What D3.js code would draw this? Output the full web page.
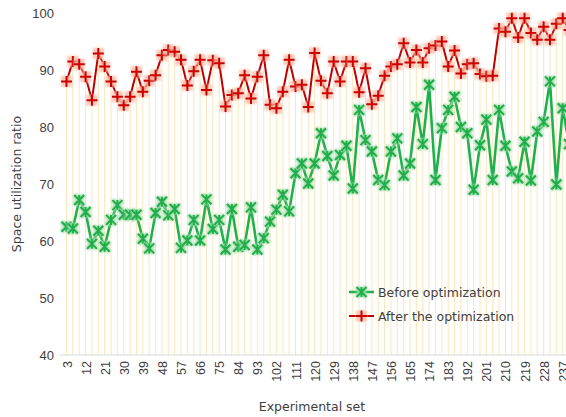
<!DOCTYPE html>
<html>
<head>
<meta charset="utf-8">
<script src="https://cdn.jsdelivr.net/npm/d3@7"></script>
<style>
  body { margin: 0; background: #fff; }
  svg { display: block; font-family: "DejaVu Sans", Verdana, sans-serif; }
</style>
</head>
<body>
<div id="chart"></div>
<script>
// Experimental sets 3, 6, 9 ... 240
const sets = d3.range(3, 241, 3);

const before = [
  62.5, 62.2, 67.2, 65.1, 59.5, 61.8, 59.0, 63.7, 66.3, 64.6,
  64.6, 64.6, 60.4, 58.7, 64.9, 66.9, 64.5, 65.6, 58.8, 60.1,
  63.7, 60.1, 67.3, 62.1, 63.7, 58.5, 65.6, 59.0, 59.3, 65.9,
  58.5, 60.5, 63.4, 65.5, 68.1, 65.2, 71.9, 73.6, 70.1, 73.6,
  78.9, 74.9, 71.5, 75.1, 76.7, 69.2, 83.0, 77.7, 75.7, 70.7,
  69.8, 75.7, 78.0, 71.5, 73.6, 83.5, 77.0, 87.4, 70.7, 79.8,
  83.0, 85.3, 80.0, 78.9, 69.0, 76.8, 81.3, 70.7, 83.0, 76.7,
  72.2, 71.0, 77.4, 70.6, 79.2, 80.9, 88.0, 69.9, 83.3, 77.0
];

const after = [
  88.0, 91.5, 91.0, 88.8, 84.7, 92.9, 90.6, 88.0, 85.3, 83.8,
  85.3, 89.7, 86.2, 88.1, 89.1, 92.6, 93.5, 93.2, 91.8, 87.3,
  89.8, 91.8, 86.5, 91.7, 91.2, 83.6, 85.6, 85.9, 89.1, 85.0,
  88.8, 92.6, 83.9, 83.3, 86.2, 91.8, 87.1, 87.4, 83.5, 93.0,
  88.1, 85.9, 91.5, 88.0, 91.5, 91.5, 86.1, 90.3, 84.0, 85.5,
  89.0, 90.6, 91.0, 94.7, 91.3, 93.5, 91.3, 93.8, 94.3, 95.0,
  90.6, 93.4, 89.4, 91.0, 91.2, 89.3, 88.9, 89.0, 97.3, 96.7,
  99.1, 95.7, 99.1, 96.5, 95.3, 97.6, 95.3, 98.1, 99.1, 97.0
];

const xTicks = d3.range(3, 238, 9);
const yTicks = [40, 50, 60, 70, 80, 90, 100];

const seriesNames = ["Before optimization", "After the optimization"];

const width = 566, height = 417;
const svg = d3.select("#chart").append("svg")
  .attr("width", width)
  .attr("height", height);

const x = d3.scaleLinear().domain([3, 237]).range([66.5, 562.7]);
const y = d3.scaleLinear().domain([40, 100]).range([355, 13]);

// Glow filter for markers
const defs = svg.append("defs");
const glow = defs.append("filter").attr("id", "soft")
  .attr("x", "-50%").attr("y", "-50%").attr("width", "200%").attr("height", "200%");
glow.append("feGaussianBlur").attr("stdDeviation", 1.1);

const rows = sets.map((s, i) => ({ set: s, before: before[i], after: after[i] }));

// Drop lines from the highest point down to the category axis
svg.append("g")
  .selectAll("line")
  .data(rows)
  .join("line")
  .attr("x1", d => x(d.set))
  .attr("x2", d => x(d.set))
  .attr("y1", d => y(Math.max(d.before, d.after)))
  .attr("y2", y(40))
  .attr("stroke", "#f6d88e")
  .attr("stroke-opacity", 0.6)
  .attr("stroke-width", 1);

// Category axis line
svg.append("line")
  .attr("x1", 60).attr("x2", width)
  .attr("y1", y(40)).attr("y2", y(40))
  .attr("stroke", "#d9d9d9");

// Axes
const xAxis = svg.append("g")
  .attr("transform", `translate(0,${y(40)})`)
  .call(d3.axisBottom(x).tickValues(xTicks).tickSize(0).tickFormat(d3.format("d")));
xAxis.select(".domain").remove();
xAxis.selectAll("text")
  .attr("transform", "rotate(-90)")
  .attr("x", -6)
  .attr("y", 0)
  .attr("dy", "0.36em")
  .attr("text-anchor", "end")
  .attr("fill", "#404040")
  .style("font-size", "12.5px");

const yAxis = svg.append("g")
  .attr("transform", "translate(60,0)")
  .call(d3.axisLeft(y).tickValues(yTicks).tickSize(0).tickPadding(6));
yAxis.select(".domain").remove();
yAxis.selectAll("text")
  .attr("fill", "#404040")
  .style("font-size", "13px");

// Axis titles
svg.append("text")
  .attr("x", 312).attr("y", 411)
  .attr("text-anchor", "middle")
  .attr("fill", "#404040")
  .style("font-size", "12.5px")
  .text("Experimental set");

svg.append("text")
  .attr("transform", "translate(21,184) rotate(-90)")
  .attr("text-anchor", "middle")
  .attr("fill", "#404040")
  .style("font-size", "12.5px")
  .text("Space utilization ratio");

// Marker helpers
function starMarker(g, cx, cy) {
  const s = 5;
  const path = `M${cx - s},${cy - s}L${cx + s},${cy + s}M${cx - s},${cy + s}L${cx + s},${cy - s}M${cx},${cy - s}L${cx},${cy + s}`;
  g.append("path").attr("d", path)
    .attr("stroke", "#a3ddb1").attr("stroke-width", 5)
    .attr("fill", "none").attr("filter", "url(#soft)");
  g.append("path").attr("d", path)
    .attr("stroke", "#1fae48").attr("stroke-width", 2)
    .attr("fill", "none");
}

function plusMarker(g, cx, cy) {
  const s = 5.5;
  g.append("rect")
    .attr("x", cx - s).attr("y", cy - s)
    .attr("width", 2 * s).attr("height", 2 * s)
    .attr("fill", "#f7b9a4").attr("fill-opacity", 0.8)
    .attr("filter", "url(#soft)");
  g.append("path")
    .attr("d", `M${cx - s},${cy}L${cx + s},${cy}M${cx},${cy - s}L${cx},${cy + s}`)
    .attr("stroke", "#cc0000").attr("stroke-width", 2)
    .attr("fill", "none");
}

// Lines
const lineBefore = d3.line().x(d => x(d.set)).y(d => y(d.before));
const lineAfter = d3.line().x(d => x(d.set)).y(d => y(d.after));

svg.append("path")
  .datum(rows)
  .attr("d", lineBefore)
  .attr("fill", "none")
  .attr("stroke", "#21b14c")
  .attr("stroke-width", 2.6);

const gBefore = svg.append("g");
rows.forEach(d => starMarker(gBefore, x(d.set), y(d.before)));

svg.append("path")
  .datum(rows)
  .attr("d", lineAfter)
  .attr("fill", "none")
  .attr("stroke", "#c00000")
  .attr("stroke-width", 2);

const gAfter = svg.append("g");
rows.forEach(d => plusMarker(gAfter, x(d.set), y(d.after)));

// Legend
const legend = svg.append("g");
const legendY = [292, 316];

legend.append("line")
  .attr("x1", 349).attr("x2", 374)
  .attr("y1", legendY[0]).attr("y2", legendY[0])
  .attr("stroke", "#21b14c").attr("stroke-width", 2.6);
starMarker(legend, 361.5, legendY[0]);

legend.append("line")
  .attr("x1", 349).attr("x2", 374)
  .attr("y1", legendY[1]).attr("y2", legendY[1])
  .attr("stroke", "#c00000").attr("stroke-width", 2);
plusMarker(legend, 361.5, legendY[1]);

legend.selectAll("text")
  .data(seriesNames)
  .join("text")
  .attr("x", 378)
  .attr("y", (d, i) => legendY[i])
  .attr("dy", "0.36em")
  .attr("fill", "#404040")
  .style("font-size", "12.5px")
  .text(d => d);
</script>
</body>
</html>
